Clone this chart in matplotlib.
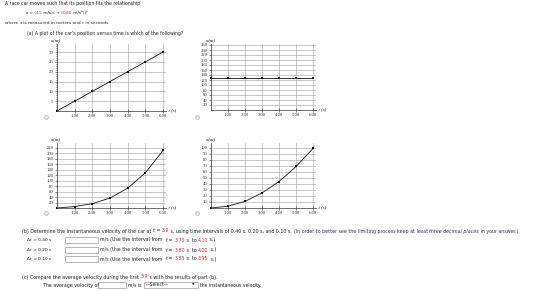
import matplotlib
matplotlib.use("Agg")
import matplotlib.pyplot as plt
from matplotlib.lines import Line2D
from matplotlib.patches import Rectangle
from matplotlib.ticker import MultipleLocator

# ---------------- data ----------------
t_vals = [0, 1, 2, 3, 4, 5, 6]
x_linear = [0, 5, 10, 15, 20, 25, 30]
x_const = [128, 128, 128, 128, 128, 128, 128]
x_cubic = [0, 5.35, 15.8, 36.45, 72.4, 128.75, 210.6]
x_quad = [0, 3, 11, 25, 44, 69, 99]
xtick_labels = ["1.00", "2.00", "3.00", "4.00", "5.00", "6.00"]
yticks_a = [5, 10, 15, 20, 25, 30]
yticks_b = [20, 40, 60, 80, 100, 120, 140, 160, 180, 200, 220, 240, 260]
yticks_c = [20, 40, 60, 80, 100, 120, 140, 160, 180, 200, 220]
yticks_d = [10, 20, 30, 40, 50, 60, 70, 80, 90, 100]

W, H = 560, 291
fig = plt.figure(figsize=(W / 100, H / 100), dpi=100)
fig.patch.set_facecolor("white")
renderer = fig.canvas.get_renderer()

RED = "#e0282e"
TXT = "#222222"
FS = 3.35


def fx(x):
    return x / W


def fy(y):
    return 1 - y / H


def segs(x, y, parts, fs=FS):
    """Draw consecutive text pieces starting at pixel (x, y-center)."""
    cur = x
    for p in parts:
        if isinstance(p, tuple):
            s, col, sty = (p + (None, None))[:3]
        else:
            s, col, sty = p, None, None
        txt = fig.text(fx(cur), fy(y), s, fontsize=fs, color=col or TXT,
                       style=sty or "normal", va="center", ha="left",
                       family="DejaVu Sans")
        bb = txt.get_window_extent(renderer)
        cur += bb.width
    return cur


def box(x0, x1, yc, h=6):
    fig.add_artist(Rectangle((fx(x0), fy(yc + h / 2)), (x1 - x0) / W, h / H,
                             transform=fig.transFigure, facecolor="white",
                             edgecolor="#9a9a9a", linewidth=0.5))


def radio(x, y):
    fig.add_artist(Line2D([fx(x)], [fy(y)], transform=fig.transFigure,
                          marker="o", markersize=2.6, markerfacecolor="white",
                          markeredgecolor="#a0a0a0", markeredgewidth=0.5))


def chart(left, right, top, bottom, yvals, yticks, ylim_top, minor=None,
          xlim_right=6.17):
    ax = fig.add_axes([fx(left), fy(bottom), (right - left) / W, (bottom - top) / H])
    ax.set_xlim(0, xlim_right)
    ax.set_ylim(0, ylim_top)
    ax.set_xticks(t_vals[1:])
    ax.set_xticklabels(xtick_labels, family="Liberation Serif", fontsize=3.4)
    ax.set_yticks(yticks)
    ax.set_yticklabels([str(v) for v in yticks], family="Liberation Serif", fontsize=3.4)
    if minor:
        ax.yaxis.set_minor_locator(MultipleLocator(minor))
    ax.grid(True, which="major", color="#aaaaaa", linewidth=0.45)
    ax.set_axisbelow(True)
    for s in ("top", "right"):
        ax.spines[s].set_visible(False)
    for s in ("left", "bottom"):
        ax.spines[s].set_linewidth(0.5)
        ax.spines[s].set_color("#333333")
    ax.tick_params(axis="both", length=1.5, width=0.4, pad=1, colors="#333333")
    ax.tick_params(axis="y", which="minor", length=1.0, width=0.4, colors="#333333")
    ax.tick_params(axis="x", direction="inout", length=2.5)
    ax.plot(t_vals, yvals, color="#111111", linewidth=0.6, marker="s",
            markersize=1.5, markerfacecolor="#111111", markeredgewidth=0,
            clip_on=False)
    ax.text(1.0, 0.0, "  t (s)", transform=ax.transAxes, fontsize=3.4,
            family="Liberation Serif", style="italic", va="center", ha="left")
    ax.text(-0.06, 1.02, "x (m)", transform=ax.transAxes, fontsize=3.4,
            family="Liberation Serif", style="italic", va="bottom", ha="left")
    return ax


# ---------------- header text ----------------
segs(5, 3.5, ["A race car moves such that its position fits the relationship"])
segs(25, 13.5, [("x", None, "italic"), " = (", ("4.5", RED), " m/s)",
                ("t", None, "italic"), " + (", ("0.85", RED), " m/s\u00b3)",
                ("t", None, "italic"), "\u00b3"], fs=3.1)
segs(5, 23, ["where ", ("x", None, "italic"), " is measured in meters and ",
             ("t", None, "italic"), " in seconds."], fs=3.1)
segs(27, 33, ["(a) A plot of the car's position versus time is which of the following?"])

# ---------------- charts ----------------
chart(57, 166, 44, 111, x_linear, yticks_a, 34.1, minor=1)
chart(211, 316, 44, 110, x_const, yticks_b, 264)
chart(57, 166, 143, 208, x_cubic, yticks_c, 238)
chart(211, 316, 143, 208, x_quad, yticks_d, 108)

radio(46, 117)
radio(197, 117)
radio(46, 213)
radio(197, 213)

# ---------------- part (b) ----------------
segs(22, 231, ["(b) Determine the instantaneous velocity of the car at ",
               ("t", None, "italic"), " = ", ("3.9", RED),
               " s, using time intervals of 0.40 s, 0.20 s, and 0.10 s. ",
               ("(In order to better see the limiting process keep at least ", "#333355"),
               ("three decimal places", "#333355", "italic"),
               (" in your answer.)", "#333355")], fs=3.45)

rows = [("0.40", "3.70", "4.10", 240), ("0.20", "3.80", "4.00", 250),
        ("0.10", "3.85", "3.95", 259)]
for dt, a, b, y in rows:
    segs(27, y, ["\u0394", ("t", None, "italic"), " = " + dt + " s"], fs=3.1)
    box(65, 98, y)
    segs(100, y, ["m/s (Use the interval from  ", ("t", None, "italic"), " = ",
                  (a, RED), " s  to ", (b, RED), " s.)"], fs=3.4)

# ---------------- part (c) ----------------
segs(22, 277, ["(c) Compare the average velocity during the first ", ("3.9", RED),
               " s with the results of part (b)."], fs=3.45)
segs(43, 285, ["The average velocity of"], fs=3.45)
box(98, 126, 285)
segs(128, 285, ["m/s is"])
box(144, 198, 285)
segs(146, 285, ["\u2014Select\u2014"])
fig.text(fx(195), fy(285), "\u25bc", fontsize=2.4, ha="right", va="center",
         color="#222222", family="DejaVu Sans")
segs(200, 285, ["the instantaneous velocity."])

fig.savefig("out.png", dpi=100, facecolor="white")
